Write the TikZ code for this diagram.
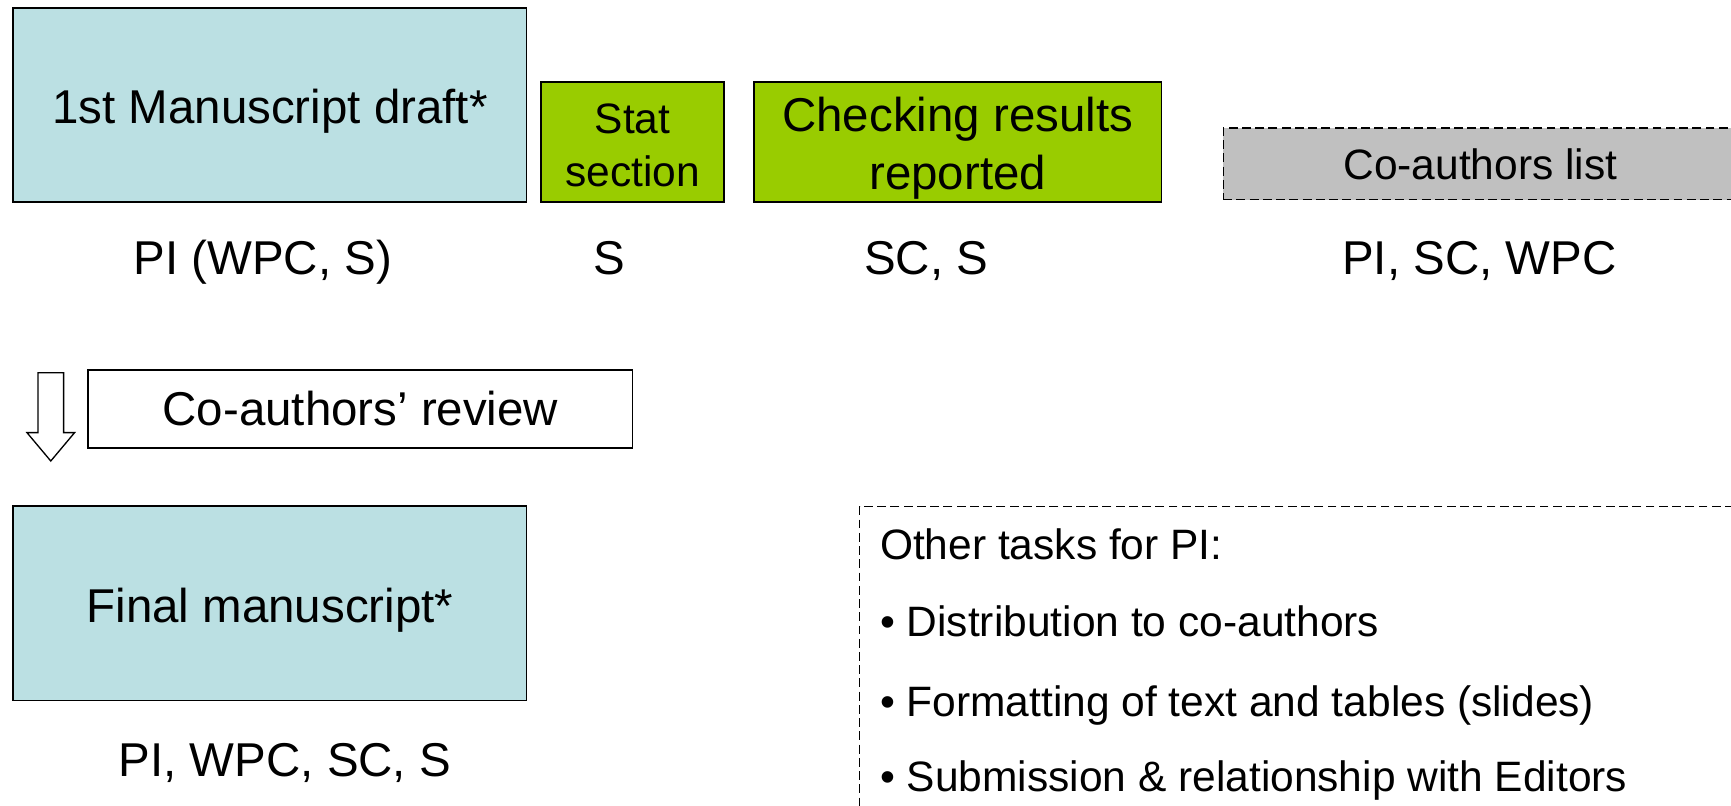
\documentclass[tikz,border=0pt]{standalone}
\usepackage{fontspec}
\setmainfont{Liberation Sans}
\usetikzlibrary{shapes.arrows}
\definecolor{draftblue}{RGB}{187,224,227}
\definecolor{statgreen}{RGB}{153,204,0}
\definecolor{listgray}{RGB}{192,192,192}
\newcommand{\bigtxt}{\fontsize{43}{52}\selectfont}
\newcommand{\smalltxt}{\fontsize{38.5}{48}\selectfont}
\newcommand{\twolines}[2]{\raisebox{-6.5pt}[\height][\depth]{\begin{tabular}{@{}c@{}}#1\\#2\end{tabular}}}
\begin{document}
\begin{tikzpicture}[x=1pt, y=-1pt,
    box/.style = {draw, line width=1.5pt, inner sep=0pt, align=center},
    mainbox/.style = {box, fill=draftblue, minimum width=465pt, minimum height=176pt, font=\bigtxt,
      text height=43pt, text depth=9pt},
    statbox/.style = {box, fill=statgreen, minimum height=109pt},
    dashbox/.style = {box, dash pattern=on 8pt off 4pt, line width=1.2pt},
    who/.style = {anchor=base, inner sep=0pt, font=\bigtxt},
    task/.style = {anchor=base west, inner sep=0pt, font=\smalltxt}]
    \clip (0,0) rectangle (1568,730);
    \node[mainbox] (draft) at (244.5, 95) {1st Manuscript draft*} % top, left
    node[statbox, minimum width=166pt, font=\smalltxt] (stat) at (573, 128.5) {\twolines{Stat}{section}} % top, second
    node[statbox, minimum width=369pt, font=\bigtxt] (check) at (867.5, 128.5) {\twolines{Checking results}{reported}} % top, third
    node[dashbox, fill=listgray, minimum width=466pt, minimum height=65pt, font=\smalltxt] (list) at (1341, 148.5) {Co-authors list}; % top, right
    \node[who] (draftwho) at (238, 249) {PI (WPC, S)}
    node[who] (statwho) at (552, 249) {S}
    node[who] (checkwho) at (839, 249) {SC, S}
    node[who] (listwho) at (1340, 249) {PI, SC, WPC};
    \node[single arrow, draw, line width=1.2pt, shape border rotate=270, inner sep=11pt,
      single arrow head extend=10pt, single arrow tip angle=80, minimum height=80pt,
      anchor=tail] (flow) at (46, 337) {}; % down arrow
    \node[box, minimum width=493pt, minimum height=71pt, font=\bigtxt] (review) at (326.5, 370.5) {Co-authors’ review};
    \node[mainbox] (final) at (244.5, 546.5) {Final manuscript*} % bottom, left
    node[who] (finalwho) at (258, 703) {PI, WPC, SC, S};
    \node[dashbox, anchor=north west, minimum width=830pt, minimum height=320pt] (tasks) at (778, 458) {}; % bottom, right
    \node[task] (t0) at (797, 507) {Other tasks for PI:}
    node[task] (t1) at (797, 577) {• Distribution to co-authors}
    node[task] (t2) at (797, 649) {• Formatting of text and tables (slides)}
    node[task] (t3) at (797, 717) {• Submission \& relationship with Editors};
\end{tikzpicture}
\end{document}
